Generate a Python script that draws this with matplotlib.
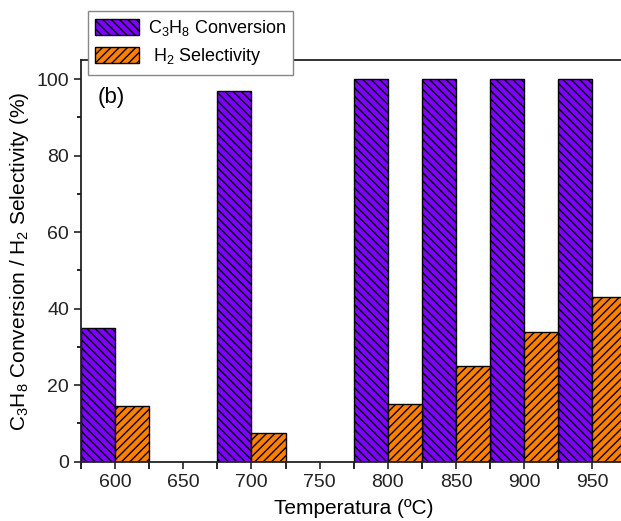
import matplotlib
matplotlib.use("Agg")
import matplotlib.pyplot as plt
from matplotlib.ticker import MultipleLocator

# temperatures (ºC) and measured values (%)
temps = [600, 700, 800, 850, 900, 950]
conversion = [35, 97, 100, 100, 100, 100]
selectivity = [14.5, 7.5, 15, 25, 34, 43]
xticks = [600, 650, 700, 750, 800, 850, 900, 950]

plt.rcParams['font.family'] = ['Liberation Sans', 'DejaVu Sans']
plt.rcParams['mathtext.fontset'] = 'custom'
plt.rcParams['mathtext.rm'] = 'Liberation Sans'
plt.rcParams['mathtext.it'] = 'Liberation Sans'
plt.rcParams['hatch.linewidth'] = 1.0

fig = plt.figure(figsize=(6.21, 5.21), dpi=100)
ax = fig.add_axes([0.1304, 0.1138, 0.8786, 0.771])

w = 25
ax.bar([t - w / 2 for t in temps], conversion, width=w, color='#7F00FF',
       edgecolor='black', linewidth=1.0, hatch='\\\\\\\\',
       label=r'C$_3$H$_8$ Conversion')
ax.bar([t + w / 2 for t in temps], selectivity, width=w, color='#FF8000',
       edgecolor='black', linewidth=1.0, hatch='////',
       label=r' H$_2$ Selectivity')

ax.set_xlim(575, 975)
ax.set_ylim(0, 105)
ax.set_xticks(xticks)
ax.xaxis.set_minor_locator(MultipleLocator(25))
ax.yaxis.set_major_locator(MultipleLocator(20))
ax.yaxis.set_minor_locator(MultipleLocator(10))
ax.tick_params(which='major', direction='out', length=5, width=1.2,
               labelsize=14, colors='#222222')
ax.tick_params(which='minor', direction='out', length=3, width=1.2)
ax.tick_params(axis='x', which='minor', length=5)
for s in ax.spines.values():
    s.set_linewidth(1.3)
    s.set_color('#222222')

ax.set_xlabel('Temperatura (ºC)', fontsize=15, labelpad=6)
ax.set_ylabel(r'C$_3$H$_8$ Conversion / H$_2$ Selectivity (%)', fontsize=15,
              labelpad=4)
ax.text(597, 95.3, '(b)', fontsize=16, ha='center', va='center')

leg = fig.legend(loc='upper left', bbox_to_anchor=(88 / 621, 1 - 11 / 521),
                 fontsize=13, frameon=True, fancybox=False, framealpha=1,
                 edgecolor='#888888', handlelength=2.4, handleheight=1.0,
                 borderpad=0.4, labelspacing=0.45, handletextpad=0.5,
                 borderaxespad=0)
leg.get_frame().set_linewidth(1.0)

fig.savefig('out.png', dpi=100)
